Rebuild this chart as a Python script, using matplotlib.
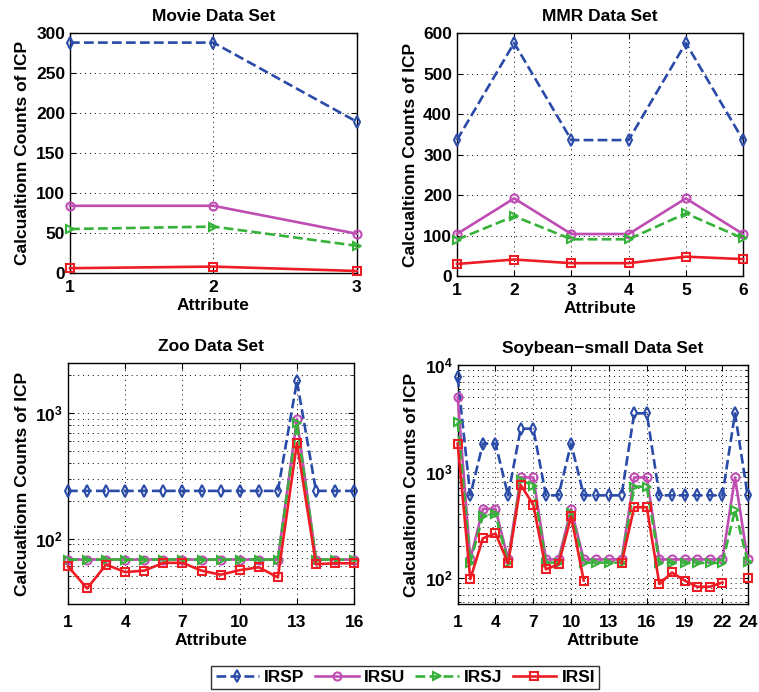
import matplotlib
matplotlib.use('Agg')
import matplotlib.pyplot as plt
import numpy as np
from matplotlib.ticker import FuncFormatter, NullFormatter, LogLocator

plt.rcParams['font.family'] = ['Liberation Sans', 'DejaVu Sans']
plt.rcParams['font.weight'] = 'bold'
plt.rcParams['mathtext.fontset'] = 'custom'
plt.rcParams['mathtext.rm'] = 'Liberation Sans:bold'
plt.rcParams['mathtext.bf'] = 'Liberation Sans:bold'

nan = np.nan

# Movie data set
movie_x = [1, 2, 3]
movie_irsp = [288, 288, 189]
movie_irsu = [84, 84, 49]
movie_irsj = [55, 58, 34]
movie_irsi = [6, 8, 2.5]

# MMR data set
mmr_x = [1, 2, 3, 4, 5, 6]
mmr_irsp = [336, 576, 336, 336, 576, 336]
mmr_irsu = [104, 192, 104, 104, 192, 104]
mmr_irsj = [90, 148, 91, 91, 155, 93]
mmr_irsi = [30, 41, 32, 32, 48, 42]

# Zoo data set
zoo_x = list(range(1, 17))
zoo_irsp = [240] * 12 + [1800] + [240] * 3
zoo_irsu = [68] * 12 + [900] + [68] * 3
zoo_irsj = [68] * 12 + [830] + [68] * 3
zoo_irsi = [60, 40, 62, 54, 55.5, 64, 64, 55.5, 51.5, 56, 59, 49, 578, 62.5, 63.5, 63.5]

# Soybean-small data set
soy_x = list(range(1, 25))
soy_irsp = [7770, 600, 1840, 1840, 600, 2540, 2540, 600, 600, 1840, 600, 600,
            600, 600, 3540, 3540, 600, 600, 600, 600, 600, 600, 3540, 600]
soy_irsu = [5020, 150, 448, 448, 150, 885, 885, 150, 150, 448, 150, 150,
            150, 150, 885, 885, 150, 150, 150, 150, 150, 150, 885, 150]
soy_irsj = [2930, 140, 385, 400, 138, 836, 740, 140, 140, 406, 140, 140,
            140, 140, 725, 725, 139, 139, 139, 139, 139, 139, 438, 143]
soy_irsi = [1840, 98, 237, 263, 138, 752, 489, 121, 135, 380, 95, nan,
            nan, 138, 464, 464, 88, 113, 95, 83, 83, 91, nan, 100]

series_names = ['IRSP', 'IRSU', 'IRSJ', 'IRSI']
colors = ['#2A4BA8', '#BF4DB4', '#36B23A', '#EE1D25']
styles = [('--', 'd'), ('-', 'o'), ('--', '>'), ('-', 's')]

fig = plt.figure(figsize=(7.59, 6.92), dpi=100)

panels = [
    ('Movie Data Set', movie_x, [movie_irsp, movie_irsu, movie_irsj, movie_irsi],
     [0.0922, 0.6055, 0.378, 0.3468], False, (0, 300), [1, 2, 3]),
    ('MMR Data Set', mmr_x, [mmr_irsp, mmr_irsu, mmr_irsj, mmr_irsi],
     [0.602, 0.601, 0.377, 0.351], False, (0, 600), mmr_x),
    ('Zoo Data Set', zoo_x, [zoo_irsp, zoo_irsu, zoo_irsj, zoo_irsi],
     [0.0896, 0.127, 0.377, 0.348], True, (30, 2500), [1, 4, 7, 10, 13, 16]),
    ('Soybean\u2212small Data Set', soy_x, [soy_irsp, soy_irsu, soy_irsj, soy_irsi],
     [0.603, 0.127, 0.382, 0.345], True, (57, 10000), [1, 4, 7, 10, 13, 16, 19, 22, 24]),
]

fs = 12.5
handles = []
for title, xs, ys, pos, logy, ylim, xt in panels:
    ax = fig.add_axes(pos)
    hs = []
    for vals, c, (ls, mk), name in zip(ys, colors, styles, series_names):
        h, = ax.plot(xs, vals, linestyle=ls, marker=mk, color=c, lw=1.9,
                     markersize=5.8, markerfacecolor='none', markeredgewidth=1.5,
                     clip_on=False, label=name, zorder=3)
        hs.append(h)
    handles = hs
    ax.set_xlim(xs[0], xs[-1])
    ax.set_ylim(*ylim)
    ax.set_xticks(xt)
    if logy:
        ax.set_yscale('log')
        ax.yaxis.set_major_locator(LogLocator(base=10))
        ax.yaxis.set_minor_locator(LogLocator(base=10, subs=np.arange(2, 10)))
        ax.yaxis.set_major_formatter(FuncFormatter(
            lambda v, p: r'$\mathbf{10^{%d}}$' % int(round(np.log10(v)))))
        ax.yaxis.set_minor_formatter(NullFormatter())
        ax.grid(True, which='both', axis='y', linestyle=(0, (1, 4)), color='black', lw=0.7)
        ax.grid(True, which='major', axis='x', linestyle=(0, (1, 4)), color='black', lw=0.7)
    else:
        ax.grid(True, linestyle=(0, (1, 4)), color='black', lw=0.7)
    ax.set_axisbelow(True)
    ax.tick_params(direction='in', top=True, right=True, labelsize=fs, length=4, width=0.8)
    ax.tick_params(axis='x', pad=8 if logy else 5)
    ax.tick_params(which='minor', direction='in', top=True, right=True, length=2)
    for lab in ax.get_xticklabels() + ax.get_yticklabels():
        lab.set_fontweight('bold')
    for sp in ax.spines.values():
        sp.set_linewidth(1.0)
    ax.set_title(title, fontsize=fs, fontweight='bold', pad=9)
    ax.set_xlabel('Attribute', fontsize=fs, fontweight='bold', labelpad=2)
    ax.set_ylabel('Calcualtionn Counts of ICP', fontsize=fs, fontweight='bold', labelpad=4)

leg = fig.legend(handles, series_names, loc='center', bbox_to_anchor=(0.534, 0.021),
                 ncol=4, fontsize=fs, frameon=True, fancybox=False, edgecolor='black',
                 handlelength=2.5, columnspacing=0.6, handletextpad=0.3,
                 borderpad=0.25)
leg.get_frame().set_linewidth(1.0)
for t in leg.get_texts():
    t.set_fontweight('bold')

fig.savefig('out.png', dpi=100)
